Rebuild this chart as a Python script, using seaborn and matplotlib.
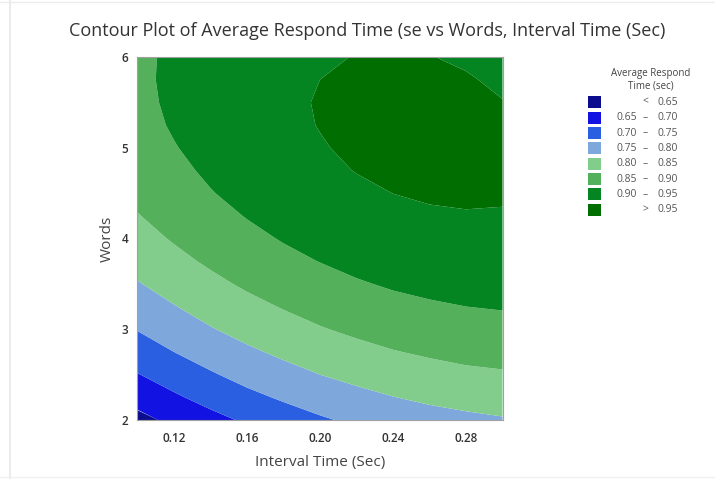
import matplotlib
matplotlib.use("Agg")
import matplotlib.pyplot as plt
from matplotlib.patches import Rectangle
from matplotlib.lines import Line2D
import numpy as np
import seaborn as sns

# Grid of the response surface: Interval Time (Sec) across, Words down
interval_time = [0.10, 0.12, 0.14, 0.16, 0.18, 0.20, 0.22, 0.24, 0.26, 0.28, 0.30]
words = [2.00, 2.25, 2.50, 2.75, 3.00, 3.25, 3.50, 3.75, 4.00,
         4.25, 4.50, 4.75, 5.00, 5.25, 5.50, 5.75, 6.00]

# Average respond time (sec), one row per Words value
avg_respond_time = [
    [0.635, 0.662, 0.685, 0.707, 0.727, 0.744, 0.759, 0.771, 0.782, 0.790, 0.796],
    [0.668, 0.693, 0.717, 0.738, 0.756, 0.773, 0.787, 0.799, 0.809, 0.816, 0.822],
    [0.698, 0.723, 0.745, 0.766, 0.784, 0.800, 0.813, 0.825, 0.834, 0.841, 0.845],
    [0.726, 0.750, 0.772, 0.792, 0.809, 0.824, 0.837, 0.848, 0.856, 0.863, 0.867],
    [0.752, 0.775, 0.797, 0.816, 0.832, 0.847, 0.859, 0.869, 0.877, 0.882, 0.886],
    [0.776, 0.798, 0.819, 0.837, 0.853, 0.867, 0.879, 0.888, 0.895, 0.900, 0.903],
    [0.797, 0.819, 0.839, 0.857, 0.872, 0.885, 0.896, 0.905, 0.911, 0.916, 0.918],
    [0.816, 0.838, 0.857, 0.874, 0.889, 0.901, 0.912, 0.920, 0.925, 0.929, 0.930],
    [0.834, 0.854, 0.873, 0.889, 0.903, 0.915, 0.925, 0.932, 0.937, 0.940, 0.941],
    [0.848, 0.869, 0.886, 0.902, 0.915, 0.927, 0.935, 0.942, 0.946, 0.948, 0.948],
    [0.861, 0.881, 0.898, 0.913, 0.925, 0.936, 0.944, 0.9502, 0.954, 0.955, 0.953],
    [0.872, 0.890, 0.907, 0.921, 0.933, 0.943, 0.951, 0.956, 0.959, 0.959, 0.956],
    [0.880, 0.898, 0.914, 0.928, 0.939, 0.948, 0.955, 0.960, 0.962, 0.961, 0.957],
    [0.886, 0.904, 0.919, 0.932, 0.943, 0.951, 0.957, 0.961, 0.962, 0.960, 0.955],
    [0.890, 0.907, 0.921, 0.934, 0.944, 0.952, 0.957, 0.960, 0.961, 0.958, 0.951],
    [0.892, 0.908, 0.922, 0.934, 0.943, 0.950, 0.955, 0.958, 0.957, 0.953, 0.944],
    [0.892, 0.907, 0.920, 0.931, 0.940, 0.946, 0.951, 0.953, 0.951, 0.945, 0.935],
]

# Contour bands
band_edges = [0.65, 0.70, 0.75, 0.80, 0.85, 0.90, 0.95]
band_colors = ["#0c0c8e", "#1212e2", "#2a5fe2", "#7ea8dc",
               "#82cc8c", "#55b05b", "#058522", "#006e00"]

x_ticks = [0.12, 0.16, 0.20, 0.24, 0.28]
y_ticks = [2, 3, 4, 5, 6]

sns.set_style("white")
plt.rcParams["font.family"] = ["Open Sans", "DejaVu Sans"]

fig = plt.figure(figsize=(7.15, 4.79), dpi=100)
ax = fig.add_axes([0.1923, 0.1232, 0.5105, 0.7578])

X, Y = np.meshgrid(interval_time, words)
Z = np.array(avg_respond_time)
levels = [0.0] + band_edges + [2.0]
ax.contourf(X, Y, Z, levels=levels, colors=band_colors, antialiased=True)

ax.set_xlim(interval_time[0], interval_time[-1])
ax.set_ylim(words[0], words[-1])
ax.set_xticks(x_ticks)
ax.set_xticklabels([f"{t:.2f}" for t in x_ticks])
ax.set_yticks(y_ticks)
ax.set_yticklabels([str(t) for t in y_ticks])
ax.tick_params(axis="both", which="major", direction="out", length=3.5,
               width=0.8, color="#8c8c8c", labelsize=8.5, labelcolor="#333333")
ax.tick_params(axis="x", pad=5)
ax.tick_params(axis="y", pad=3)
for lab in ax.get_xticklabels() + ax.get_yticklabels():
    lab.set_fontweight("semibold")
for s in ax.spines.values():
    s.set_color("#a0a0a0")
    s.set_linewidth(0.8)

ax.set_xlabel("Interval Time (Sec)", fontsize=11, color="#444444", labelpad=7)
ax.set_ylabel("Words", fontsize=11, color="#444444", labelpad=5)

fig.text(0.514, 0.935, "Contour Plot of Average Respond Time (se vs Words, Interval Time (Sec)",
         ha="center", va="center", fontsize=13, color="#333333")

# Legend drawn in figure pixels
W, H = 715.0, 479.0
def fx(px):
    return px / W
def fy(py):
    return 1.0 - py / H

fig.text(fx(651), fy(80), "Average Respond\nTime (sec)", ha="center", va="center",
         fontsize=7, color="#444444", linespacing=1.15)

labels_low = ["", "0.65", "0.70", "0.75", "0.80", "0.85", "0.90", ""]
labels_high = ["0.65", "0.70", "0.75", "0.80", "0.85", "0.90", "0.95", "0.95"]
signs = ["<", "\u2013", "\u2013", "\u2013", "\u2013", "\u2013", "\u2013", ">"]
for i, col in enumerate(band_colors):
    cy = 102.3 + i * 15.35
    fig.patches.append(Rectangle((fx(588), fy(cy + 6)), 13 / W, 12 / H,
                                 transform=fig.transFigure, facecolor=col,
                                 edgecolor="none"))
    fig.text(fx(637), fy(cy), labels_low[i], ha="right", va="center",
             fontsize=7.5, color="#555555")
    fig.text(fx(645), fy(cy), signs[i], ha="center", va="center",
             fontsize=7.5, color="#555555")
    fig.text(fx(678), fy(cy), labels_high[i], ha="right", va="center",
             fontsize=7.5, color="#555555")

# faint page frame
fig.add_artist(Line2D([fx(10), fx(10)], [0, 1], transform=fig.transFigure,
                      color="#e8e8e8", linewidth=1.2))
fig.add_artist(Line2D([0, 1], [fy(1.5), fy(1.5)], transform=fig.transFigure,
                      color="#ececec", linewidth=1.0))
fig.add_artist(Line2D([0, 1], [fy(477), fy(477)], transform=fig.transFigure,
                      color="#f0f0f0", linewidth=1.0))

fig.savefig("out.png", dpi=100, facecolor="white")
